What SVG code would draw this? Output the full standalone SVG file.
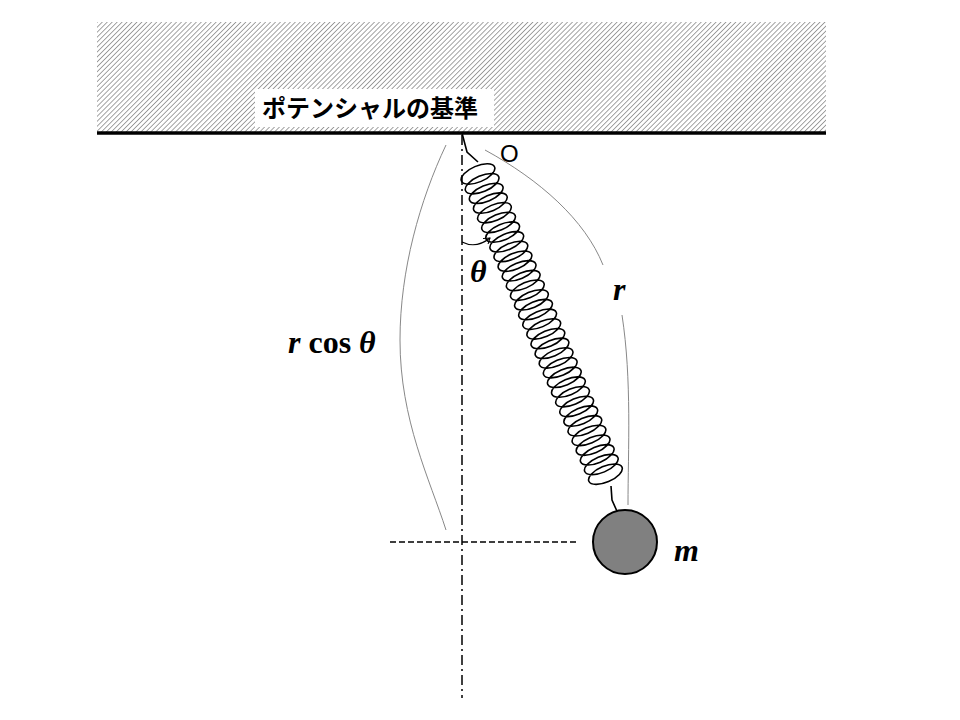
<svg xmlns="http://www.w3.org/2000/svg" width="960" height="720" viewBox="0 0 960 720">
<defs>
<pattern id="hatch" width="3.5" height="3.5" patternUnits="userSpaceOnUse" patternTransform="rotate(45)">
<rect width="3.5" height="3.5" fill="#fff"/><line x1="0" y1="0" x2="0" y2="3.5" stroke="#666" stroke-width="1.2"/>
</pattern>
<marker id="arr" markerWidth="8" markerHeight="8" refX="6" refY="4" orient="auto" markerUnits="userSpaceOnUse"><path d="M0,0 L6,4 L0,8" fill="none" stroke="#000" stroke-width="1"/></marker>
</defs>
<style>
.guide{fill:none;stroke:#888;stroke-width:1}
.lbl{font-family:"Liberation Serif",serif;font-weight:bold;font-style:italic;font-size:32px}
.up{font-style:normal}
</style>
<rect width="960" height="720" fill="#fff"/>
<g id="ceiling">
<rect x="97" y="22" width="729" height="111" fill="url(#hatch)"/>
<rect x="255" y="89" width="239" height="38" fill="#fff"/>
<text x="262" y="117" font-family="Noto Sans CJK JP,sans-serif" font-weight="bold" font-size="24">ポテンシャルの基準</text>
<line x1="97" y1="133" x2="826" y2="133" stroke="#000" stroke-width="3.5"/>
<text x="500" y="162" font-family="Liberation Sans,sans-serif" font-size="24">O</text>
</g>
<g id="connectors">
<line x1="462" y1="135" x2="462" y2="698" stroke="#000" stroke-width="1.5" stroke-dasharray="10,4,2,4"/>
<line x1="390" y1="542" x2="578" y2="542" stroke="#000" stroke-width="1.5" stroke-dasharray="6,3"/>
<path class="guide" d="M446,145 C420,200 400,270 400,340 C400,420 430,480 446,530"/>
<path class="guide" d="M485,150 C540,180 585,220 603,265"/>
<path class="guide" d="M622,315 C632,380 628,450 628,505"/>
<path d="M462,242 C470,246 480,246 490,238" fill="none" stroke="#000" stroke-width="1.2" marker-end="url(#arr)"/>
</g>
<g id="spring" fill="none" stroke="#000" stroke-width="1.6">
<path d="M462,133 L467,152 L478,162"/>
<g transform="translate(478,174) rotate(-23)">
<path d="M-18,0 a18,8 0 1,0 36,0 a18,8 0 1,0 -36,0 m0,10.52 a18,8 0 1,0 36,0 a18,8 0 1,0 -36,0 m0,10.52 a18,8 0 1,0 36,0 a18,8 0 1,0 -36,0 m0,10.52 a18,8 0 1,0 36,0 a18,8 0 1,0 -36,0 m0,10.52 a18,8 0 1,0 36,0 a18,8 0 1,0 -36,0 m0,10.52 a18,8 0 1,0 36,0 a18,8 0 1,0 -36,0 m0,10.52 a18,8 0 1,0 36,0 a18,8 0 1,0 -36,0 m0,10.52 a18,8 0 1,0 36,0 a18,8 0 1,0 -36,0 m0,10.52 a18,8 0 1,0 36,0 a18,8 0 1,0 -36,0 m0,10.52 a18,8 0 1,0 36,0 a18,8 0 1,0 -36,0 m0,10.52 a18,8 0 1,0 36,0 a18,8 0 1,0 -36,0 m0,10.52 a18,8 0 1,0 36,0 a18,8 0 1,0 -36,0 m0,10.52 a18,8 0 1,0 36,0 a18,8 0 1,0 -36,0 m0,10.52 a18,8 0 1,0 36,0 a18,8 0 1,0 -36,0 m0,10.52 a18,8 0 1,0 36,0 a18,8 0 1,0 -36,0 m0,10.52 a18,8 0 1,0 36,0 a18,8 0 1,0 -36,0 m0,10.52 a18,8 0 1,0 36,0 a18,8 0 1,0 -36,0 m0,10.52 a18,8 0 1,0 36,0 a18,8 0 1,0 -36,0 m0,10.52 a18,8 0 1,0 36,0 a18,8 0 1,0 -36,0 m0,10.52 a18,8 0 1,0 36,0 a18,8 0 1,0 -36,0 m0,10.52 a18,8 0 1,0 36,0 a18,8 0 1,0 -36,0 m0,10.52 a18,8 0 1,0 36,0 a18,8 0 1,0 -36,0 m0,10.52 a18,8 0 1,0 36,0 a18,8 0 1,0 -36,0 m0,10.52 a18,8 0 1,0 36,0 a18,8 0 1,0 -36,0 m0,10.52 a18,8 0 1,0 36,0 a18,8 0 1,0 -36,0 m0,10.52 a18,8 0 1,0 36,0 a18,8 0 1,0 -36,0 m0,10.52 a18,8 0 1,0 36,0 a18,8 0 1,0 -36,0 m0,10.52 a18,8 0 1,0 36,0 a18,8 0 1,0 -36,0 m0,10.52 a18,8 0 1,0 36,0 a18,8 0 1,0 -36,0 m0,10.52 a18,8 0 1,0 36,0 a18,8 0 1,0 -36,0 m0,10.52 a18,8 0 1,0 36,0 a18,8 0 1,0 -36,0 m0,10.52 a18,8 0 1,0 36,0 a18,8 0 1,0 -36,0"/>
</g>
<path d="M611,486 L612,500 L620,518"/>
</g>
<g id="mass">
<circle cx="625" cy="542" r="32" fill="#808080" stroke="#000" stroke-width="2"/>
<text class="lbl" x="674" y="561">m</text>
</g>
<g id="labels">
<text class="lbl" x="470" y="282">θ</text>
<text class="lbl" x="613" y="300">r</text>
<text class="lbl" x="288" y="353">r <tspan class="up">cos</tspan> θ</text>
</g>
</svg>
